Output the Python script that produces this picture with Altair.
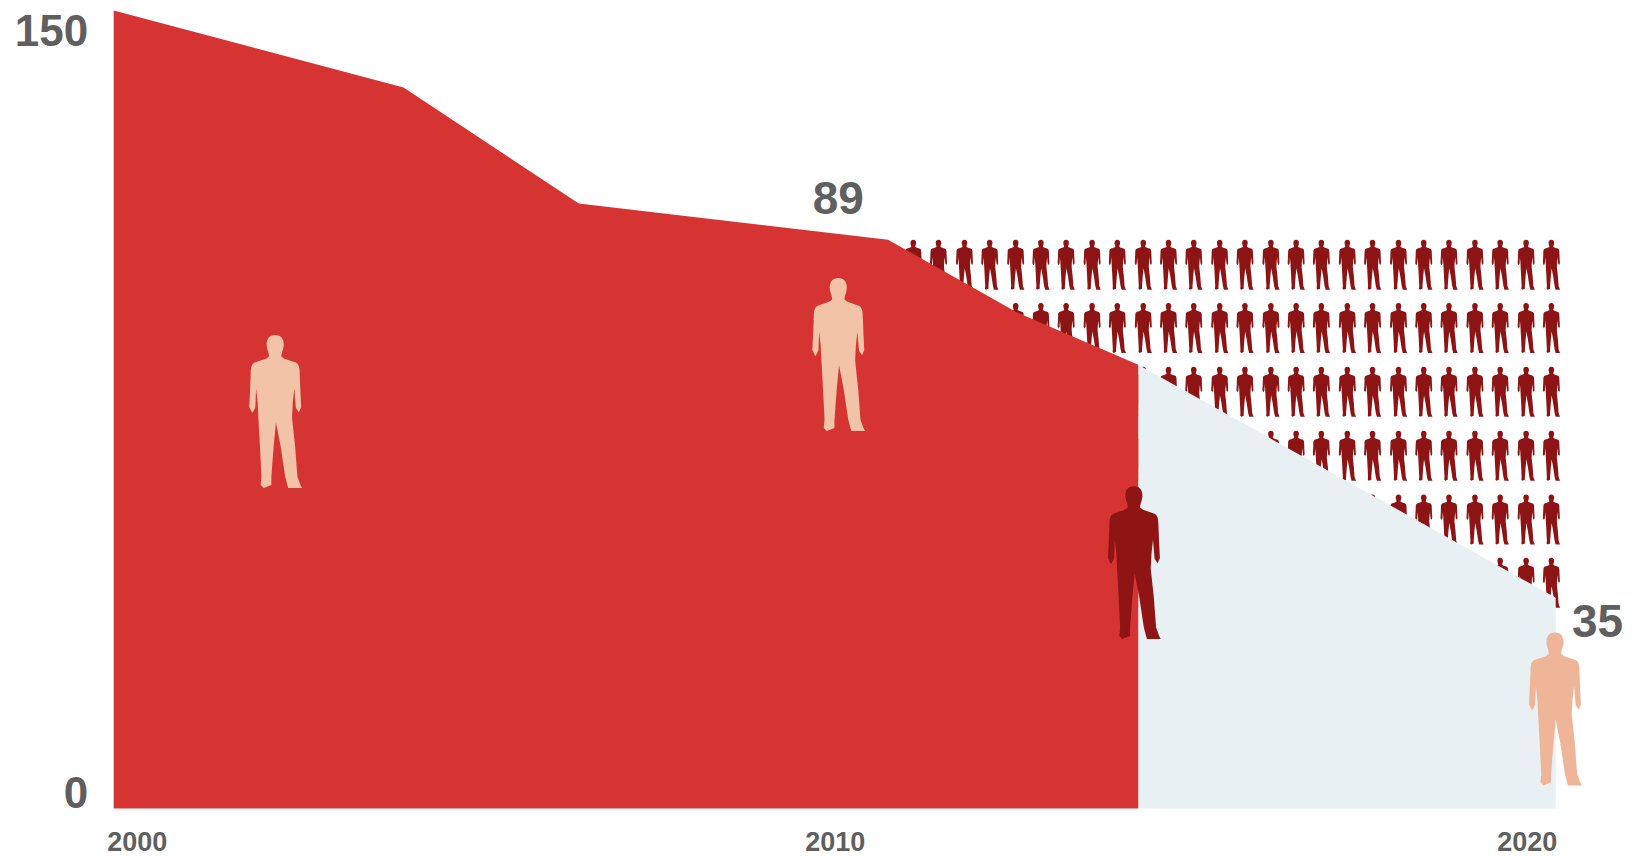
import altair as alt
import pandas as pd

red_years = [2000, 2004.02, 2006.45, 2010.74, 2012.53, 2014.21]
red_values = [150, 135.5, 113.7, 106.9, 93.2, 83.4]
pale_years = [2014.21, 2020]
pale_values = [83.4, 39.6]

grid_years = [2011.09, 2011.44, 2011.80, 2012.15, 2012.51, 2012.86, 2013.21, 2013.57,
              2013.92, 2014.28, 2014.63, 2014.98, 2015.34, 2015.69, 2016.05, 2016.40,
              2016.75, 2017.11, 2017.46, 2017.82, 2018.17, 2018.52, 2018.88, 2019.23,
              2019.59, 2019.94]
grid_values = [102.2, 90.3, 78.3, 66.3, 54.3, 42.4]

light_years = [2002.24, 2010.05]
light_values = [74.6, 85.3]
dark_years = [2014.15]
dark_values = [46.2]
peach_years = [2019.99]
peach_values = [18.7]

note_years = [2010.05, 2020.58]
note_values = [114.4, 34.9]
note_labels = ["89", "35"]

x_ticks = [2000, 2010, 2020]
y_ticks = [0, 150]

PERSON = (
    "M0,-1 C.09,-1 .12,-.93 .11,-.85 C.10,-.79 .08,-.76 .08,-.72 L.12,-.69 L.27,-.64 "
    "C.31,-.62 .32,-.57 .32,-.50 L.33,-.25 L.34,-.06 L.31,.01 L.27,-.05 L.25,-.30 "
    "L.23,-.12 L.22,.08 L.26,.45 L.29,.85 L.33,.96 L.35,1 L.17,1 L.13,.85 L.07,.45 "
    "L.01,.14 L-.02,.45 L-.05,.85 L-.05,.96 L-.15,1 L-.19,.96 L-.18,.85 L-.20,.45 "
    "L-.22,.08 L-.23,-.12 L-.25,-.30 L-.26,-.05 L-.30,.02 L-.34,-.06 L-.33,-.25 "
    "L-.32,-.50 C-.32,-.57 -.31,-.62 -.27,-.64 L-.12,-.69 L-.08,-.72 "
    "C-.08,-.76 -.10,-.79 -.11,-.85 C-.12,-.93 -.09,-1 0,-1 Z"
)

FONT = "Liberation Sans"
GREY = "#5f5f5f"

x_scale = alt.Scale(domain=[2000, 2020], nice=False, zero=False)
y_scale = alt.Scale(domain=[0, 150], nice=False)
x_axis = alt.Axis(
    values=x_ticks, title=None, domain=False, ticks=False, grid=False, format="d",
    labelFont=FONT, labelFontSize=27, labelFontWeight="bold", labelColor=GREY,
    labelPadding=21, labelOverlap=False, labelFlush=False,
    labelOffset={"condition": [{"test": "datum.value == 2000", "value": 23},
                               {"test": "datum.value == 2020", "value": -29}], "value": 0},
)
y_axis = alt.Axis(
    values=y_ticks, title=None, domain=False, ticks=False, grid=False,
    labelFont=FONT, labelFontSize=44, labelFontWeight="bold", labelColor=GREY,
    labelPadding=26, labelOverlap=False, labelFlush=False,
    labelBaseline={"condition": {"test": "datum.value == 150", "value": "top"}, "value": "bottom"},
    labelOffset={"condition": {"test": "datum.value == 150", "value": 0}, "value": 8},
)

X = alt.X("year:Q", scale=x_scale, axis=x_axis)
Y = alt.Y("value:Q", scale=y_scale, axis=y_axis)


def persons(years, values, size, color):
    frame = pd.DataFrame({"year": years, "value": values})
    return alt.Chart(frame).mark_point(
        shape=PERSON, size=size, filled=True, fill=color, opacity=1, strokeWidth=0
    ).encode(x=X, y=Y)


def area(years, values, color):
    frame = pd.DataFrame({"year": years, "value": values})
    return alt.Chart(frame).mark_area(color=color, opacity=1, interpolate="linear").encode(x=X, y=Y)


grid_frame = pd.DataFrame(
    [{"year": g, "value": v} for v in grid_values for g in grid_years]
)
grid = alt.Chart(grid_frame).mark_point(
    shape=PERSON, size=2500, filled=True, fill="#8c1414", opacity=1, strokeWidth=0
).encode(x=X, y=Y)

notes = alt.Chart(pd.DataFrame({"year": note_years, "value": note_values, "label": note_labels})).mark_text(
    font=FONT, fontSize=46, fontWeight="bold", color=GREY, align="center", baseline="middle"
).encode(x=X, y=Y, text="label:N")

chart = alt.layer(
    grid,
    area(pale_years, pale_values, "#e9f0f4"),
    area(red_years, red_values, "#d63333"),
    persons(light_years, light_values, 23400, "#f2c3a6"),
    persons(dark_years, dark_values, 23400, "#8f1515"),
    persons(peach_years, peach_values, 23400, "#efb598"),
    notes,
).properties(
    width=1442,
    height=798,
    autosize="none",
    padding={"left": 105.7, "top": 2.4, "right": 70, "bottom": 60},
    background="white",
).configure_view(stroke=None)

chart.save("out.html", embed_options={"renderer": "svg", "actions": False})
